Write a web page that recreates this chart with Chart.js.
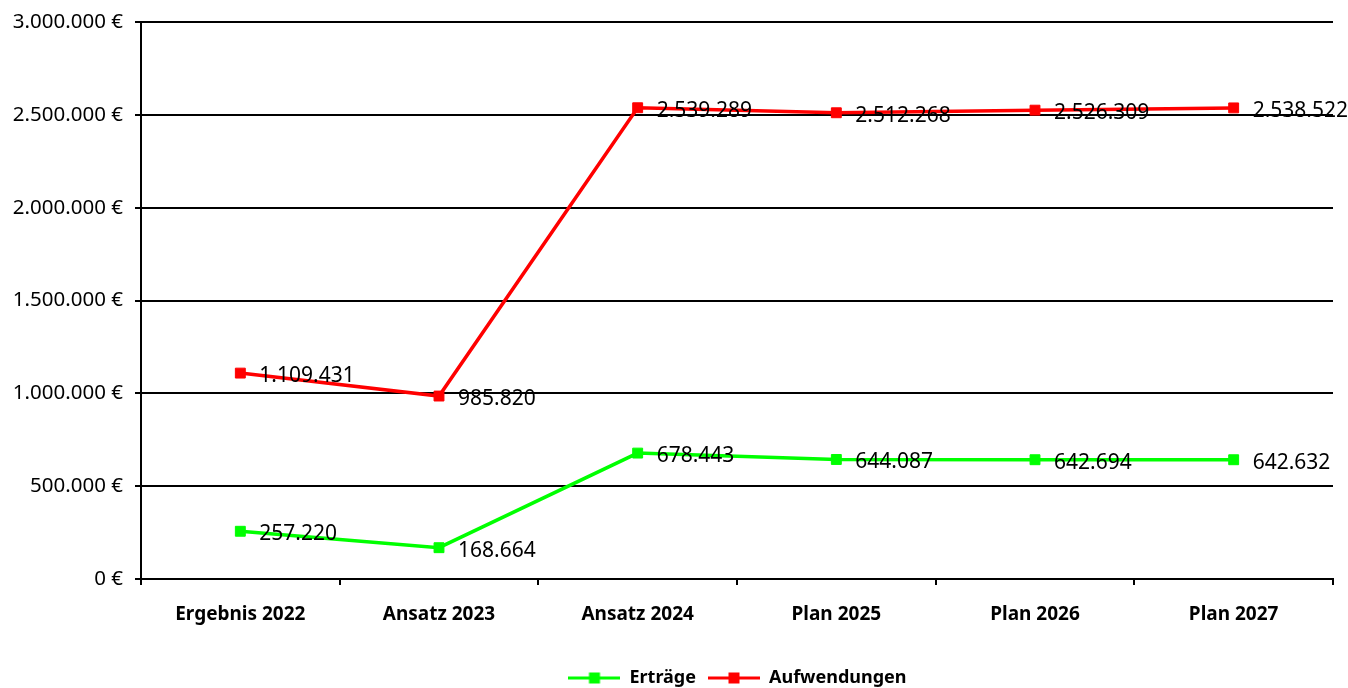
<!DOCTYPE html>
<html>
<head>
<meta charset="utf-8">
<script src="https://cdn.jsdelivr.net/npm/chart.js@4.4.1/dist/chart.umd.min.js"></script>
<style>
  html, body { margin: 0; padding: 0; background: #fff; }
  #wrap { width: 1348px; height: 688px; }
</style>
</head>
<body>
<div id="wrap"><canvas id="chart"></canvas></div>
<script>
// Kategorien und Werte (Euro)
const categories = ['Ergebnis 2022', 'Ansatz 2023', 'Ansatz 2024', 'Plan 2025', 'Plan 2026', 'Plan 2027']
const ertraege = [257220, 168664, 678443, 644087, 642694, 642632]
const aufwendungen = [1109431, 985820, 2539289, 2512268, 2526309, 2538522]
const yMin = 0
const yMax = 3000000
const yStep = 500000

const FONT = 'Noto Sans'

// Tausenderpunkte wie 1.109.431
const fmt = n => String(Math.round(n)).replace(/\B(?=(\d{3})+(?!\d))/g, '.')

// Legendensymbol: Linie mit Quadrat in der Mitte
function legendSymbol(color) {
  const c = document.createElement('canvas')
  c.width = 52
  c.height = 12
  const g = c.getContext('2d')
  g.fillStyle = color
  g.fillRect(0, 4.5, 52, 3)
  g.fillRect(20.5, 0.5, 11, 11)
  return c
}

// Werte rechts neben den Punkten
const valueLabels = {
  id: 'valueLabels',
  afterDatasetsDraw(chart) {
    const ctx = chart.ctx
    ctx.save()
    ctx.font = `21px "${FONT}"`
    ctx.fillStyle = '#000'
    ctx.textBaseline = 'middle'
    ctx.textAlign = 'left'
    chart.data.datasets.forEach((ds, i) => {
      chart.getDatasetMeta(i).data.forEach((pt, j) => {
        ctx.fillText(fmt(ds.data[j]), pt.x + 19, pt.y + 3)
      })
    })
    ctx.restore()
  }
}

// Legende etwas nach rechts versetzen
const legendShift = {
  id: 'legendShift',
  afterLayout(chart) {
    chart.legend.left += 71
    chart.legend.right += 71
  }
}

const series = [
  { label: 'Erträge', data: ertraege, color: '#00ff00' },
  { label: 'Aufwendungen', data: aufwendungen, color: '#ff0000' },
]

new Chart(document.getElementById('chart'), {
  type: 'line',
  data: {
    labels: categories,
    datasets: series.map(s => ({
      label: s.label,
      data: s.data,
      borderColor: s.color,
      backgroundColor: s.color,
      borderWidth: 3.5,
      pointStyle: 'rect',
      pointRadius: 7,
      pointBorderWidth: 1,
      pointBackgroundColor: s.color,
      pointBorderColor: s.color,
      tension: 0,
      fill: false,
    }))
  },
  options: {
    responsive: true,
    maintainAspectRatio: false,
    animation: false,
    layout: { padding: { top: 20, right: 15, bottom: -9, left: 0 } },
    plugins: {
      tooltip: { enabled: false },
      legend: {
        position: 'bottom',
        labels: {
          usePointStyle: true,
          pointStyleWidth: 52,
          boxHeight: 12,
          padding: 12,
          color: '#000',
          font: { family: FONT, size: 18, weight: 'bold' },
          generateLabels(chart) {
            return chart.data.datasets.map((ds, i) => ({
              text: ds.label,
              fillStyle: ds.borderColor,
              strokeStyle: ds.borderColor,
              lineWidth: 0,
              pointStyle: legendSymbol(ds.borderColor),
              hidden: false,
              datasetIndex: i,
            }))
          }
        }
      }
    },
    scales: {
      x: {
        offset: true,
        grid: { offset: true, drawOnChartArea: false, drawTicks: true, tickLength: 6, color: '#000', lineWidth: 2 },
        border: { color: '#000', width: 2 },
        ticks: { color: '#000', padding: 18, maxRotation: 0, font: { family: FONT, size: 19, weight: 'bold' } },
        afterFit: s => { s.height = 78 }
      },
      y: {
        min: yMin,
        max: yMax,
        grid: { color: '#000', lineWidth: 2, tickLength: 6 },
        border: { color: '#000', width: 2 },
        ticks: {
          stepSize: yStep,
          color: '#000',
          padding: 12,
          font: { family: FONT, size: 20.5, lineHeight: 1 },
          callback: v => fmt(v) + ' €'
        },
        afterFit: s => { s.width = 141 }
      }
    }
  },
  plugins: [valueLabels, legendShift]
})
</script>
</body>
</html>
